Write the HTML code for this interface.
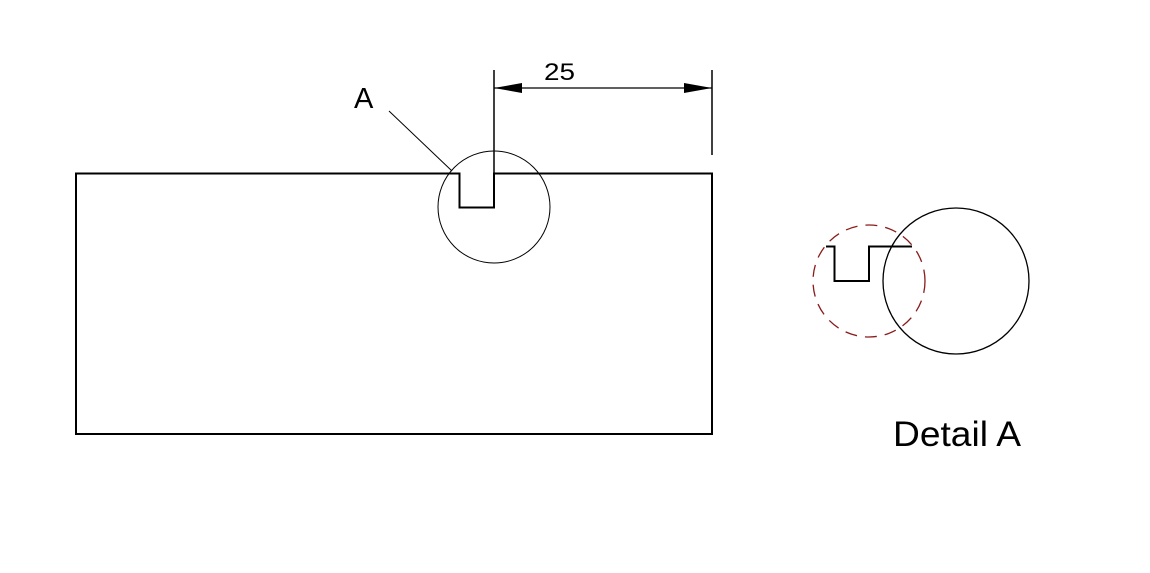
<!DOCTYPE html>
<html><head><meta charset="utf-8"><style>
html,body{margin:0;padding:0;background:#fff;width:1150px;height:573px;overflow:hidden}
svg{display:block}
text{font-family:"Liberation Sans",sans-serif;fill:#000}
</style></head><body>
<svg width="1150" height="573" viewBox="0 0 1150 573">
<g fill="none" stroke="#000">
<path d="M76,173.5 H459.5 V207.5 H494 V173.5 H712 V434 H76 Z" stroke-width="2"/>
<circle cx="494" cy="207" r="56" stroke-width="1"/>
<line x1="494" y1="70" x2="494" y2="173" stroke-width="1.5"/>
<line x1="712" y1="70" x2="712" y2="155" stroke-width="1.5"/>
<line x1="494" y1="88" x2="712" y2="88" stroke-width="1.2"/>
<line x1="389" y1="111" x2="452" y2="171" stroke-width="1"/>
<circle cx="956" cy="281" r="73" stroke-width="1.3"/>
<circle cx="869" cy="281" r="56" stroke="#8b1a1a" stroke-width="1.3" stroke-dasharray="12,8"/>
<path d="M826,246.5 H834.5 V281 H869 V246.5 H912" stroke-width="2"/>
</g>
<polygon points="494,88 522,83 522,93" fill="#000"/>
<polygon points="712,88 684,83 684,93" fill="#000"/>
<text x="544" y="80" font-size="24" textLength="31" lengthAdjust="spacingAndGlyphs">25</text>
<text x="354" y="108" font-size="29">A</text>
<text x="893" y="446" font-size="35" textLength="128" lengthAdjust="spacingAndGlyphs">Detail A</text>
</svg>
</body></html>
